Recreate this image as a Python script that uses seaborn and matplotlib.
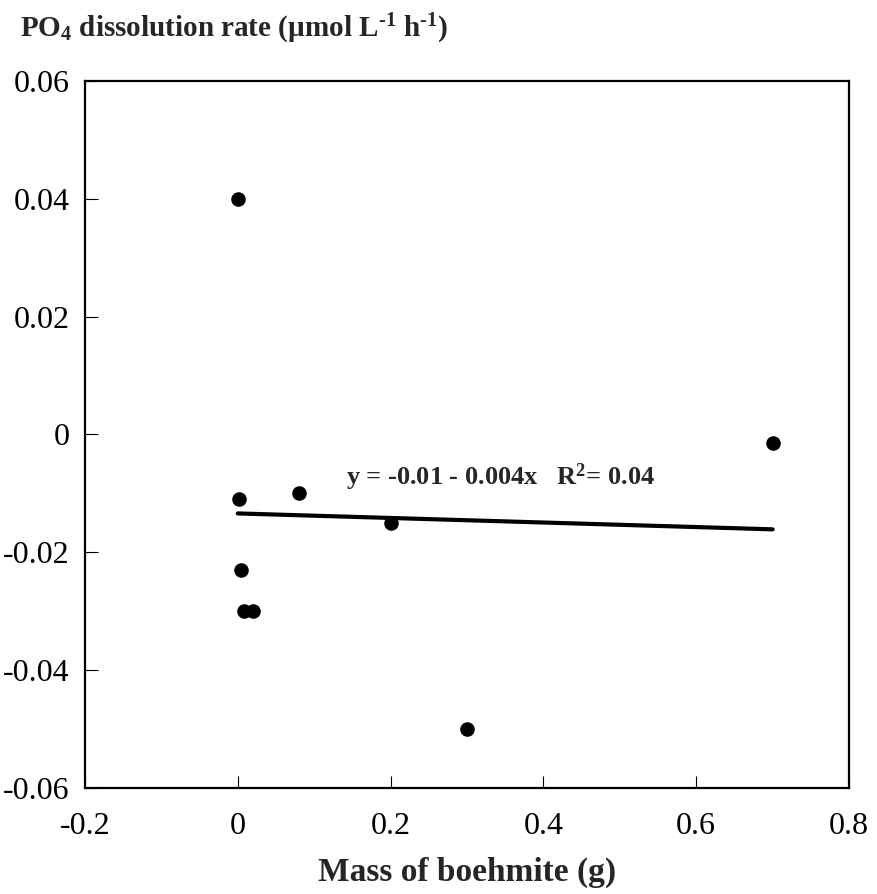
import numpy as np
import pandas as pd
import matplotlib
matplotlib.use("Agg")
import matplotlib.pyplot as plt
import seaborn as sns

# Data
mass_g = [0.0, 0.002, 0.004, 0.008, 0.02, 0.08, 0.2, 0.3, 0.7]
rate = [0.040, -0.011, -0.023, -0.030, -0.030, -0.010, -0.015, -0.050, -0.0015]
fit_x = [0.0, 0.7]
fit_y = [-0.0134, -0.0161]
x_ticks = [-0.2, 0, 0.2, 0.4, 0.6, 0.8]
y_ticks = [-0.06, -0.04, -0.02, 0, 0.02, 0.04, 0.06]
eq_text = "y = -0.01 - 0.004x   R$^2$= 0.04"
title_text = r"PO$_4$ dissolution rate (µmol L$^{\text{-1}}$ h$^{\text{-1}}$)"

sns.set_style("white")
plt.rcParams['font.family'] = ['Liberation Serif', 'DejaVu Serif']
plt.rcParams['mathtext.fontset'] = 'custom'
plt.rcParams['mathtext.rm'] = 'Liberation Serif:bold'
plt.rcParams['mathtext.bf'] = 'Liberation Serif:bold'
plt.rcParams['mathtext.default'] = 'bf'

df = pd.DataFrame({"x": mass_g, "y": rate})
fit = pd.DataFrame({"x": fit_x, "y": fit_y})

fig = plt.figure(figsize=(8.78, 8.94), dpi=100)
ax = fig.add_axes([0.0968, 0.1186, 0.8702, 0.7908])

sns.lineplot(data=fit, x="x", y="y", ax=ax, color="black", linewidth=3.0)
sns.scatterplot(data=df, x="x", y="y", ax=ax, color="black", s=110,
                edgecolor="black", linewidth=0, zorder=3)

ax.set_xlim(-0.2, 0.8)
ax.set_ylim(-0.06, 0.06)
ax.set_xticks(x_ticks)
ax.set_yticks(y_ticks)
ax.set_xticklabels([f"{v:g}" for v in x_ticks])
ax.set_yticklabels([f"{v:g}" for v in y_ticks])
ax.tick_params(direction="in", length=9, width=0.8, labelsize=23,
               bottom=True, left=True, top=False, right=False, colors="black")
ax.tick_params(axis="x", pad=17)
ax.tick_params(axis="y", pad=11)
for s in ax.spines.values():
    s.set_linewidth(1.6)
    s.set_color("black")

ax.set_xlabel("Mass of boehmite (g)", fontsize=24, fontweight="bold", labelpad=12)
ax.set_ylabel("")

ax.text(0.344, -0.0072, eq_text, fontsize=19, fontweight="bold", ha="center", va="center")

fig.text(0.023, 0.968, title_text,
         fontsize=21, fontweight="bold", ha="left", va="center")

fig.savefig("out.png", dpi=100)
